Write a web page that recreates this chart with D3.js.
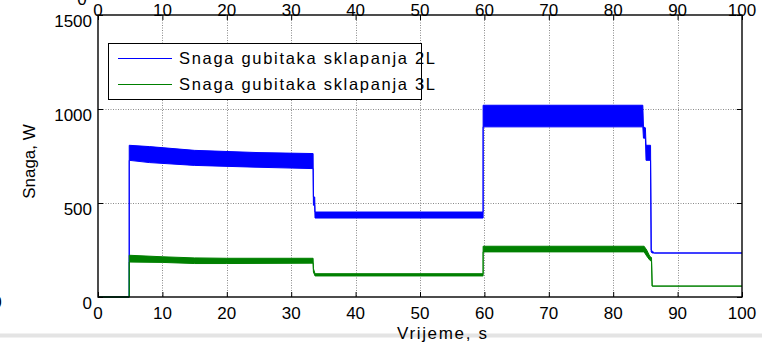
<!DOCTYPE html>
<html>
<head>
<meta charset="utf-8">
<script src="https://cdn.jsdelivr.net/npm/d3@7/dist/d3.min.js"></script>
<style>
  html, body { margin: 0; padding: 0; background: #fff; }
  svg { display: block; }
  text { font-family: "Liberation Sans", Arial, Helvetica, sans-serif; fill: #000; }
</style>
</head>
<body>
<svg id="chart" width="762" height="345"></svg>
<script>
// Time axis ticks (s) and power axis ticks (W)
const xTicks = [0, 10, 20, 30, 40, 50, 60, 70, 80, 90, 100];
const yTicks = [0, 500, 1000, 1500];

// Switching-loss power, 2-level converter: time, lower and upper envelope of the ripple band
const t2L    = [0, 4.85, 4.85, 8, 15, 25, 33.4, 33.45, 33.65, 33.7, 59.8, 59.8, 84.6, 84.7, 85.0, 85.1, 85.8, 85.9, 86.05, 86.4, 100];
const low2L  = [0, 0, 727, 715, 700, 690, 683, 488, 488, 420, 420, 905, 905, 845, 845, 727, 727, 240, 234, 234, 234];
const high2L = [0, 0, 807, 800, 780, 768, 763, 532, 532, 452, 452, 1020, 1020, 905, 900, 807, 807, 250, 245, 234, 234];

// Switching-loss power, 3-level converter
const t3L    = [0, 4.85, 4.85, 10, 15, 20, 33.4, 33.45, 33.7, 59.8, 59.8, 84.8, 85.2, 85.7, 85.95, 86.05, 100];
const low3L  = [0, 0, 186, 184, 178, 178, 180, 133, 112, 112, 240, 240, 218, 195, 190, 58, 58];
const high3L = [0, 0, 222, 214, 208, 206, 206, 151, 124, 124, 270, 270, 250, 215, 210, 58, 58];

const seriesNames = ["Snaga gubitaka sklapanja 2L", "Snaga gubitaka sklapanja 3L"];
const seriesColors = ["#0000ff", "#008000"];

const svg = d3.select("#chart");
const W = 762, H = 345;
const plot = { left: 98, right: 742, top: 15, bottom: 297 };

svg.append("rect").attr("width", W).attr("height", H).attr("fill", "#fff");

const x = d3.scaleLinear().domain([0, 100]).range([plot.left, plot.right]);
const y = d3.scaleLinear().domain([0, 1500]).range([plot.bottom, plot.top]);

// dotted grid
const grid = svg.append("g").attr("stroke", "#8a8a8a").attr("stroke-width", 1).attr("stroke-dasharray", "1,1.5");
grid.selectAll("line.gx").data(xTicks.slice(1, -1)).join("line")
  .attr("x1", d => Math.round(x(d)) + 0.5).attr("x2", d => Math.round(x(d)) + 0.5)
  .attr("y1", plot.top).attr("y2", plot.bottom);
grid.selectAll("line.gy").data(yTicks.slice(1, -1)).join("line")
  .attr("y1", d => Math.round(y(d)) + 0.5).attr("y2", d => Math.round(y(d)) + 0.5)
  .attr("x1", plot.left).attr("x2", plot.right);

// ripple bands
function band(ts, lo, hi) {
  return ts.map((t, i) => ({ t, lo: lo[i], hi: hi[i] }));
}
const area = d3.area().x(d => x(d.t)).y0(d => y(d.lo)).y1(d => y(d.hi));
const series = [band(t2L, low2L, high2L), band(t3L, low3L, high3L)];
series.forEach((s, i) => {
  svg.append("path").datum(s).attr("d", area)
    .attr("fill", seriesColors[i]).attr("stroke", seriesColors[i])
    .attr("stroke-width", 1).attr("stroke-linejoin", "miter");
});

// axes box with inward ticks
const axisG = svg.append("g");
axisG.append("rect").attr("x", plot.left).attr("y", plot.top)
  .attr("width", plot.right - plot.left).attr("height", plot.bottom - plot.top)
  .attr("fill", "none").attr("stroke", "#000").attr("stroke-width", 1.4);

const tickLen = 5;
const bottomAxis = d3.axisBottom(x).tickValues(xTicks).tickSize(-tickLen).tickFormat("");
const topAxis = d3.axisTop(x).tickValues(xTicks).tickSize(-tickLen).tickFormat("");
const leftAxis = d3.axisLeft(y).tickValues(yTicks).tickSize(-tickLen).tickFormat("");
const rightAxis = d3.axisRight(y).tickValues(yTicks).tickSize(-tickLen).tickFormat("");
[[bottomAxis, `translate(0,${plot.bottom})`], [topAxis, `translate(0,${plot.top})`],
 [leftAxis, `translate(${plot.left},0)`], [rightAxis, `translate(${plot.right},0)`]].forEach(([ax, tr]) => {
  const g = axisG.append("g").attr("transform", tr).call(ax);
  g.select(".domain").remove();
  g.selectAll(".tick line").attr("stroke", "#000").attr("stroke-width", 1);
});

// tick labels
const fs = 17;
svg.append("g").selectAll("text").data(xTicks).join("text")
  .attr("x", d => x(d)).attr("y", 319).attr("text-anchor", "middle")
  .attr("font-size", fs).text(d => d);
svg.append("g").selectAll("text").data(xTicks).join("text")
  .attr("x", d => x(d)).attr("y", 15.5).attr("text-anchor", "middle")
  .attr("font-size", fs).text(d => d);
svg.append("g").selectAll("text").data(yTicks).join("text")
  .attr("x", 92).attr("y", d => y(d) + 12).attr("text-anchor", "end")
  .attr("font-size", fs).text(d => d);

// stray labels from neighbouring axes at the figure edges
svg.append("text").attr("x", 82).attr("y", 5).attr("text-anchor", "middle").attr("font-size", fs).text("0");
svg.append("text").attr("x", -3).attr("y", 308).attr("text-anchor", "middle").attr("font-size", fs).text("0");

// figure footer strip
svg.append("rect").attr("x", 0).attr("y", 333.5).attr("width", W).attr("height", 4).attr("fill", "#e4e4e4");

// axis titles
svg.append("text").attr("x", 442).attr("y", 339).attr("text-anchor", "middle")
  .attr("font-size", fs).attr("textLength", 90).attr("lengthAdjust", "spacing").text("Vrijeme, s");
svg.append("text").attr("transform", "translate(35,161.5) rotate(-90)").attr("text-anchor", "middle")
  .attr("font-size", fs).text("Snaga, W");

// legend
const lg = svg.append("g");
lg.append("rect").attr("x", 108.5).attr("y", 43.5).attr("width", 313).attr("height", 56)
  .attr("fill", "#fff").attr("stroke", "#000").attr("stroke-width", 1);
const legendY = [58, 84];
seriesNames.forEach((name, i) => {
  lg.append("line").attr("x1", 118).attr("x2", 172).attr("y1", legendY[i] + 0.5).attr("y2", legendY[i] + 0.5)
    .attr("stroke", seriesColors[i]).attr("stroke-width", 1);
  lg.append("text").attr("x", 179).attr("y", legendY[i] + 6).attr("font-size", 16.5)
    .attr("textLength", 256).attr("lengthAdjust", "spacing").text(name);
});
</script>
</body>
</html>
